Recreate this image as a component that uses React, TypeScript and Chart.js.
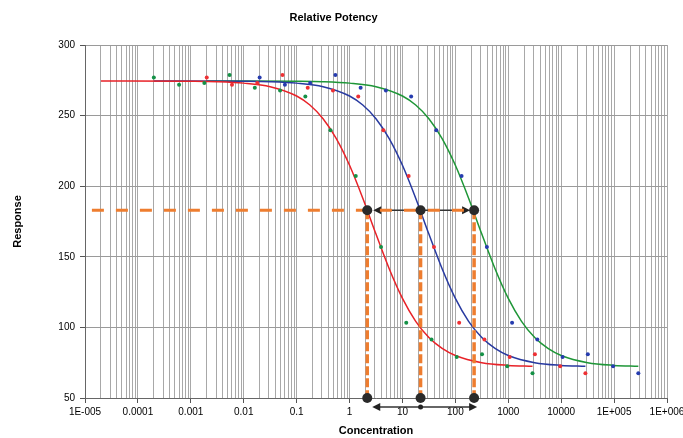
import React, { useEffect, useRef } from 'react';
import { Chart, registerables } from 'chart.js';

Chart.register(...registerables);

// ---- axis definitions ----
const DECADE_EXPONENTS = [-5, -4, -3, -2, -1, 0, 1, 2, 3, 4, 5, 6];
const DECADE_LABELS = ['1E-005', '0.0001', '0.001', '0.01', '0.1', '1', '10', '100', '1000', '10000', '1E+005', '1E+006'];
const MINOR_MULTIPLIERS = [1, 2, 3, 4, 5, 6, 7, 8, 9];
const X_MIN = 1e-5;
const X_MAX = 1e6;
const Y_MIN = 50;
const Y_MAX = 300;
const Y_STEP = 50;

// ---- data points ----
const DOT_RESPONSE = [277, 271.8, 273, 278.7, 269.7, 267.8, 263.6, 239.7, 207.3, 157, 103.3, 91.5, 79.1, 81, 72.5, 67.6];
const GREEN_DOT_CONC = [0.0002, 0.0006, 0.0018, 0.0054, 0.0162, 0.0486, 0.146, 0.437, 1.31, 3.94, 11.8, 35.4, 106, 319, 957, 2870];
const RED_DOT_CONC = [0.002, 0.006, 0.018, 0.054, 0.162, 0.486, 1.46, 4.37, 13.1, 39.4, 118, 354, 1063, 3190, 9570, 28700];
const BLUE_DOT_CONC = [0.02, 0.06, 0.18, 0.54, 1.62, 4.86, 14.6, 43.7, 131, 394, 1180, 3540, 10630, 31900, 95700, 287000];

// ---- fitted curves ----
const CURVE_RESPONSE = [274.5, 274.3, 274.0, 273.0, 270.5, 263.9, 257.5, 247.8, 233.7, 214.8, 191.5, 166.1, 141.5, 120.5, 104.3, 92.8, 85.1, 80.1, 75.0, 73.1, 72.4];
const RED_CURVE_CONC = [0.00002, 0.001, 0.00316, 0.01, 0.0316, 0.1, 0.178, 0.316, 0.562, 1, 1.78, 3.16, 5.62, 10, 17.8, 31.6, 56.2, 100, 316, 1000, 2870];
const BLUE_CURVE_CONC = [0.0002, 0.01, 0.0316, 0.1, 0.316, 1, 1.78, 3.16, 5.62, 10, 17.8, 31.6, 56.2, 100, 178, 316, 562, 1000, 3160, 10000, 28700];
const GREEN_CURVE_CONC = [0.002, 0.1, 0.316, 1, 3.16, 10, 17.8, 31.6, 56.2, 100, 178, 316, 562, 1000, 1780, 3160, 5620, 10000, 31600, 100000, 287000];

// ---- potency reference lines ----
const RESPONSE_LEVEL = 183;
const REF_LINE_START = 1.35e-5;
const INTERSECT_CONC = [2.16, 22, 226];

const RED = 'rgb(232, 34, 40)';
const BLUE = 'rgb(40, 58, 160)';
const GREEN = 'rgb(30, 150, 55)';
const DOT_RED = 'rgb(238, 48, 52)';
const DOT_BLUE = 'rgb(38, 60, 175)';
const DOT_GREEN = 'rgb(20, 145, 70)';
const ORANGE = 'rgb(238, 125, 47)';
const DARK = '#2a2a2a';
const FONT = "'Liberation Sans', Arial, sans-serif";

const pts = (xs: number[], ys: number[]) => xs.map((x, i) => ({ x, y: ys[i] }));

const arrowPlugin = {
  id: 'potencyArrows',
  beforeDatasetsDraw(chart: any) {
    const { ctx, scales } = chart;
    const xs = INTERSECT_CONC.map((c) => scales.x.getPixelForValue(c));
    const yMid = scales.y.getPixelForValue(RESPONSE_LEVEL);
    const yBot = scales.y.getPixelForValue(Y_MIN) + 9;
    const drawArrow = (x1: number, x2: number, y: number) => {
      ctx.save();
      ctx.strokeStyle = '#333';
      ctx.fillStyle = '#222';
      ctx.lineWidth = 1.5;
      ctx.beginPath();
      ctx.moveTo(x1 + 4, y);
      ctx.lineTo(x2 - 4, y);
      ctx.stroke();
      ctx.beginPath();
      ctx.moveTo(x1, y);
      ctx.lineTo(x1 + 8, y - 4);
      ctx.lineTo(x1 + 8, y + 4);
      ctx.closePath();
      ctx.fill();
      ctx.beginPath();
      ctx.moveTo(x2, y);
      ctx.lineTo(x2 - 8, y - 4);
      ctx.lineTo(x2 - 8, y + 4);
      ctx.closePath();
      ctx.fill();
      ctx.restore();
    };
    drawArrow(xs[0] + 6, xs[2] - 4, yMid);
    drawArrow(xs[0] + 5, xs[2] + 3, yBot);
    ctx.save();
    ctx.fillStyle = '#222';
    ctx.beginPath();
    ctx.arc(xs[1], yBot, 2.5, 0, Math.PI * 2);
    ctx.fill();
    ctx.restore();
  },
};

export default function App() {
  const ref = useRef<HTMLCanvasElement | null>(null);

  useEffect(() => {
    document.body.style.margin = '0';
    const canvas = ref.current;
    if (!canvas) return;

    const xTicks: { value: number; major: boolean; label: string }[] = [];
    DECADE_EXPONENTS.forEach((e, di) => {
      MINOR_MULTIPLIERS.forEach((m) => {
        const v = m * Math.pow(10, e);
        if (v >= X_MIN && v <= X_MAX) {
          xTicks.push({ value: v, major: m === 1, label: m === 1 ? DECADE_LABELS[di] : '' });
        }
      });
    });

    const vLines = INTERSECT_CONC.map((c) => ({
      data: [{ x: c, y: RESPONSE_LEVEL }, { x: c, y: Y_MIN }],
      showLine: true,
      borderColor: ORANGE,
      borderWidth: 3.5,
      borderDash: [9, 3],
      pointRadius: 0,
      order: 1,
    }));

    const chart = new Chart(canvas, {
      type: 'scatter',
      data: {
        datasets: [
          {
            data: INTERSECT_CONC.flatMap((c) => [{ x: c, y: RESPONSE_LEVEL }, { x: c, y: Y_MIN }]),
            pointRadius: 5,
            backgroundColor: DARK,
            borderWidth: 0,
            showLine: false,
            clip: false,
            order: 0,
          } as any,
          {
            data: [{ x: REF_LINE_START, y: RESPONSE_LEVEL }, { x: INTERSECT_CONC[2], y: RESPONSE_LEVEL }],
            showLine: true,
            borderColor: ORANGE,
            borderWidth: 3,
            borderDash: [12, 12],
            pointRadius: 0,
            order: 1,
          },
          ...vLines,
          { data: pts(GREEN_DOT_CONC, DOT_RESPONSE), pointRadius: 2, backgroundColor: DOT_GREEN, borderWidth: 0, order: 2 },
          { data: pts(RED_DOT_CONC, DOT_RESPONSE), pointRadius: 2, backgroundColor: DOT_RED, borderWidth: 0, order: 2 },
          { data: pts(BLUE_DOT_CONC, DOT_RESPONSE), pointRadius: 2, backgroundColor: DOT_BLUE, borderWidth: 0, order: 2 },
          { data: pts(RED_CURVE_CONC, CURVE_RESPONSE), showLine: true, borderColor: RED, borderWidth: 1.5, pointRadius: 0, cubicInterpolationMode: 'monotone', order: 3 },
          { data: pts(BLUE_CURVE_CONC, CURVE_RESPONSE), showLine: true, borderColor: BLUE, borderWidth: 1.5, pointRadius: 0, cubicInterpolationMode: 'monotone', order: 3 },
          { data: pts(GREEN_CURVE_CONC, CURVE_RESPONSE), showLine: true, borderColor: GREEN, borderWidth: 1.5, pointRadius: 0, cubicInterpolationMode: 'monotone', order: 3 },
        ] as any,
      },
      options: {
        responsive: false,
        animation: false,
        events: [],
        layout: { padding: { left: 0, right: 16, top: 0, bottom: 0 } },
        plugins: {
          legend: { display: false },
          tooltip: { enabled: false },
          title: {
            display: true,
            text: 'Relative Potency',
            color: '#000',
            font: { family: FONT, size: 11, weight: 'bold' },
            padding: { top: 11, bottom: 20.8 },
          },
        },
        scales: {
          x: {
            type: 'logarithmic',
            min: X_MIN,
            max: X_MAX,
            afterBuildTicks: (scale: any) => {
              scale.ticks = xTicks.map((t) => ({ value: t.value, major: t.major, label: t.label }));
            },
            afterFit: (scale: any) => {
              scale.height = 40;
              scale.paddingLeft = 0;
              scale.paddingRight = 0;
            },
            ticks: {
              autoSkip: false,
              maxRotation: 0,
              padding: 3,
              color: '#000',
              font: { family: FONT, size: 10 },
              callback: (_v: any, i: number) => (xTicks[i] ? xTicks[i].label : ''),
            },
            grid: {
              color: '#a8a8a8',
              lineWidth: 1,
              tickLength: 5,
              tickColor: (ctx: any) => (ctx.index !== undefined && xTicks[ctx.index] && xTicks[ctx.index].major ? '#555' : 'rgba(0,0,0,0)'),
            },
            border: { color: '#666', width: 1 },
            title: {
              display: true,
              text: 'Concentration',
              color: '#000',
              font: { family: FONT, size: 11, weight: 'bold' },
              padding: { top: 0, bottom: 0 },
            },
          },
          y: {
            type: 'linear',
            min: Y_MIN,
            max: Y_MAX,
            afterFit: (scale: any) => {
              scale.width = 85;
            },
            ticks: {
              stepSize: Y_STEP,
              padding: 5,
              color: '#000',
              font: { family: FONT, size: 10 },
            },
            grid: { color: '#9a9a9a', lineWidth: 1, tickLength: 5, tickColor: '#555' },
            border: { color: '#666', width: 1 },
            title: {
              display: true,
              text: 'Response',
              color: '#000',
              font: { family: FONT, size: 11, weight: 'bold' },
              padding: { top: 11, bottom: 0 },
            },
          },
        },
      } as any,
      plugins: [arrowPlugin],
    });

    return () => chart.destroy();
  }, []);

  return <canvas ref={ref} width={683} height={438} style={{ display: 'block', width: 683, height: 438 }} />;
}
